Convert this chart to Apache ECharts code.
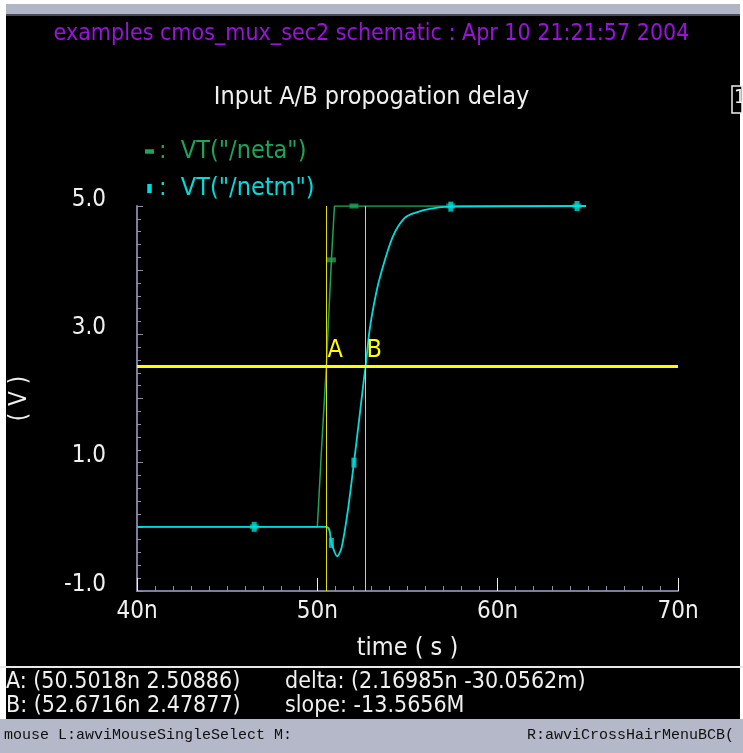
<!DOCTYPE html>
<html>
<head>
<meta charset="utf-8">
<title>Input A/B propogation delay</title>
<script src="https://cdn.jsdelivr.net/npm/echarts@6/dist/echarts.min.js"></script>
<style>
  html, body { margin: 0; padding: 0; background: #fff; }
  #chart { width: 743px; height: 753px; }
</style>
</head>
<body>
<div id="chart"></div>
<script>
// waveform samples, time in ns, voltage in V
const netaTime = [40, 50.0, 50.25, 50.5, 50.78, 50.95, 52.03, 57.4, 64.9];
const netaVolt = [0, 0, 1.3, 2.5, 4.16, 5.0, 5.0, 5.0, 5.0];

const netmTime = [40, 50.5, 50.78, 51.1, 51.35, 51.7, 52.03, 52.34, 52.6, 52.67, 52.9, 53.26, 53.54, 54.18, 54.83, 55.38, 56.3, 57.4, 64.9];
const netmVolt = [0, 0, -0.25, -0.46, -0.32, 0.27, 1.0, 1.72, 2.34, 2.48, 3.07, 3.64, 3.96, 4.52, 4.81, 4.89, 4.96, 4.99, 5.0];

// marker positions drawn on each trace
const netaMarkTime = [46.5, 50.78, 52.03, 57.4, 64.4];
const netaMarkVolt = [0, 4.16, 5.0, 5.0, 5.0];
const netmMarkTime = [46.5, 50.78, 52.03, 57.4, 64.4];
const netmMarkVolt = [0, -0.25, 1.0, 4.99, 5.0];

// cross hair cursors
const cursorNames = ['A', 'B'];
const cursorTime = [50.5018, 52.6716];
const cursorVolt = [2.50886, 2.47877];
const crossLevel = 2.5;

const xTicks = [40, 50, 60, 70];
const yLabels = [-1, 1, 3, 5];

const netaName = 'VT("/neta")';
const netmName = 'VT("/netm")';

const vecFont = "'Liberation Sans Narrow', 'DejaVu Sans Condensed', sans-serif";
const green = '#1da45a';
const cyan = '#00dcdc';

const zip = (a, b) => a.map((t, i) => [t, b[i]]);

const chart = echarts.init(document.getElementById('chart'));

const option = {
  backgroundColor: '#000',
  animation: false,
  textStyle: { fontFamily: vecFont },
  title: {
    text: 'Input A/B propogation delay',
    left: 'center',
    top: 80,
    textStyle: { color: '#f0f0f0', fontSize: 25, fontWeight: 'normal', fontFamily: vecFont }
  },
  legend: {
    orient: 'vertical',
    left: 140,
    top: 134,
    itemWidth: 9,
    itemHeight: 9,
    itemGap: 12,
    formatter: name => ':  ' + name,
    data: [
      { name: netaName, icon: 'path://M0,0H10V5H0Z', textStyle: { color: green } },
      { name: netmName, icon: 'path://M0,0H5V10H0Z', textStyle: { color: cyan } }
    ],
    textStyle: { fontSize: 25, fontFamily: vecFont }
  },
  grid: { left: 135, right: 65, top: 206, bottom: 162 },
  xAxis: {
    type: 'value',
    min: xTicks[0],
    max: xTicks[xTicks.length - 1],
    interval: 10,
    name: 'time ( s )',
    nameLocation: 'middle',
    nameGap: 45,
    nameTextStyle: { color: '#f0f0f0', fontSize: 25, fontFamily: vecFont },
    axisLine: { onZero: false, lineStyle: { color: '#7c7c9c', width: 2 } },
    axisTick: { inside: true, length: 13, lineStyle: { color: '#f0f0f0' } },
    minorTick: { show: true, splitNumber: 10, length: 5, lineStyle: { color: '#9090a8' } },
    axisLabel: {
      color: '#f0f0f0', fontSize: 24, margin: 9, fontFamily: vecFont,
      formatter: v => v + 'n'
    },
    splitLine: { show: false }
  },
  yAxis: {
    type: 'value',
    min: yLabels[0],
    max: yLabels[yLabels.length - 1],
    interval: 1,
    name: '( V )',
    nameLocation: 'middle',
    nameRotate: 90,
    nameGap: 105,
    nameTextStyle: { color: '#f0f0f0', fontSize: 24, fontFamily: vecFont },
    axisLine: { onZero: false, lineStyle: { color: '#7c7c9c', width: 2 } },
    axisTick: { inside: true, length: 6, lineStyle: { color: '#9090a8' } },
    minorTick: { show: true, splitNumber: 5, length: 4, lineStyle: { color: '#9090a8' } },
    axisLabel: {
      color: '#f0f0f0', fontSize: 24, margin: 31, fontFamily: vecFont,
      verticalAlign: 'bottom',
      lineHeight: 13,
      formatter: v => (yLabels.indexOf(v) >= 0 ? v.toFixed(1) : '')
    },
    splitLine: { show: false }
  },
  series: [
    {
      name: netaName,
      type: 'line',
      data: zip(netaTime, netaVolt),
      showSymbol: false,
      lineStyle: { color: green, width: 1.5 },
      itemStyle: { color: green },
      z: 2
    },
    {
      name: 'netaMarks',
      type: 'scatter',
      data: zip(netaMarkTime, netaMarkVolt),
      symbol: 'rect',
      symbolSize: [9, 5],
      itemStyle: { color: green },
      z: 2
    },
    {
      name: netmName,
      type: 'line',
      data: zip(netmTime, netmVolt),
      showSymbol: false,
      smooth: 0.3,
      lineStyle: { color: cyan, width: 1.8 },
      itemStyle: { color: cyan },
      z: 3,
      markLine: {
        silent: true,
        symbol: 'none',
        label: { show: false },
        data: [
          { xAxis: cursorTime[0], lineStyle: { color: '#e0e000', width: 1, type: 'solid' } },
          { xAxis: cursorTime[1], lineStyle: { color: '#e0e000', width: 1, type: 'solid' } },
          { yAxis: crossLevel, lineStyle: { color: '#ffff00', width: 3, type: 'solid' } }
        ]
      },
      markPoint: {
        symbol: 'rect',
        symbolSize: 0,
        label: {
          show: true,
          position: 'top',
          align: 'left',
          offset: [1, 2],
          color: '#ffff00',
          fontSize: 25,
          fontFamily: vecFont,
          formatter: p => p.name
        },
        data: cursorNames.map((n, i) => ({ name: n, coord: [cursorTime[i], crossLevel] }))
      }
    },
    {
      name: 'netmMarks',
      type: 'scatter',
      data: zip(netmMarkTime, netmMarkVolt),
      symbol: 'rect',
      symbolSize: [5, 10],
      itemStyle: { color: cyan },
      z: 4
    }
  ],
  graphic: [
    // window frame
    { type: 'rect', shape: { x: 0, y: 0, width: 743, height: 4 }, style: { fill: '#ffffff' } },
    { type: 'rect', shape: { x: 0, y: 4, width: 743, height: 10 }, style: { fill: '#b1b5c6' } },
    { type: 'rect', shape: { x: 0, y: 14, width: 743, height: 2 }, style: { fill: '#4a4a58' } },
    { type: 'rect', shape: { x: 0, y: 0, width: 6, height: 753 }, style: { fill: '#ffffff' } },
    { type: 'rect', shape: { x: 740, y: 0, width: 3, height: 753 }, style: { fill: '#ffffff' } },
    { type: 'rect', shape: { x: 0, y: 666, width: 743, height: 2 }, style: { fill: '#e8e8e8' } },
    { type: 'rect', shape: { x: 0, y: 719, width: 743, height: 34 }, style: { fill: '#b4b8c8' } },
    // header
    {
      type: 'text', left: 'center', top: 23,
      style: { text: 'examples cmos_mux_sec2 schematic : Apr 10 21:21:57 2004', fill: '#9a12dc', font: '23px ' + vecFont }
    },
    // subwindow number box
    { type: 'rect', shape: { x: 732, y: 86, width: 10, height: 27 }, style: { fill: '#000', stroke: '#f0f0f0', lineWidth: 1.5 } },
    { type: 'text', x: 734, y: 88, style: { text: '1', fill: '#f0f0f0', font: '20px ' + vecFont } },
    // cursor readout
    { type: 'text', x: 6, y: 671, style: { text: 'A: (50.5018n 2.50886)', fill: '#f0f0f0', font: '23px ' + vecFont } },
    { type: 'text', x: 6, y: 695, style: { text: 'B: (52.6716n 2.47877)', fill: '#f0f0f0', font: '23px ' + vecFont } },
    { type: 'text', x: 285, y: 671, style: { text: 'delta: (2.16985n -30.0562m)', fill: '#f0f0f0', font: '23px ' + vecFont } },
    { type: 'text', x: 285, y: 695, style: { text: 'slope: -13.5656M', fill: '#f0f0f0', font: '23px ' + vecFont } },
    // status bar
    { type: 'text', x: 4, y: 728, style: { text: 'mouse L:awviMouseSingleSelect M:', fill: '#101010', font: '15px "Liberation Mono", monospace' } },
    { type: 'text', right: 9, y: 728, style: { text: 'R:awviCrossHairMenuBCB(', fill: '#101010', font: '15px "Liberation Mono", monospace' } }
  ]
};

chart.setOption(option);
</script>
</body>
</html>
